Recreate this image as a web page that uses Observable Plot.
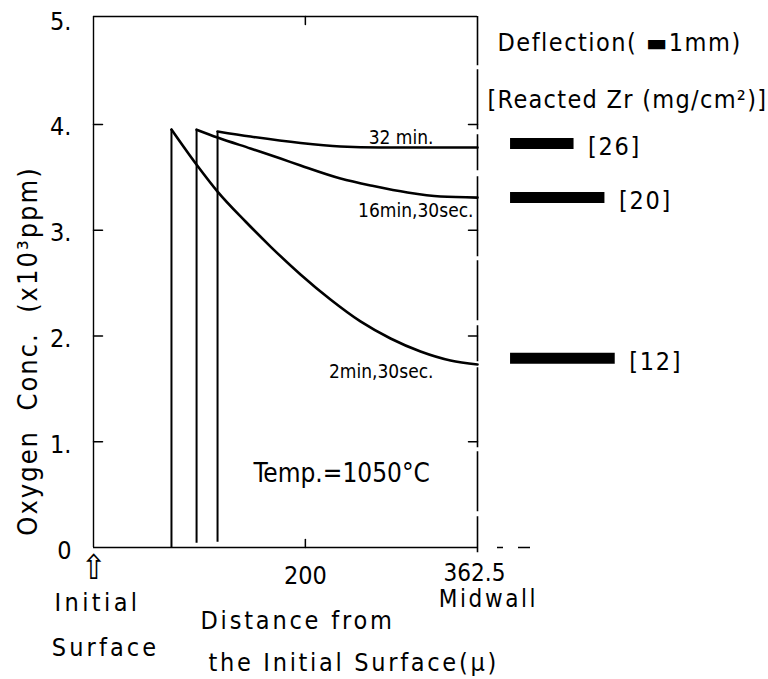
<!DOCTYPE html>
<html>
<head>
<meta charset="utf-8">
<script src="https://cdn.jsdelivr.net/npm/d3@7"></script>
<script src="https://cdn.jsdelivr.net/npm/@observablehq/plot@0.6"></script>
<style>
  html, body { margin: 0; padding: 0; background: #fff; }
  svg text { font-stretch: condensed; }
</style>
</head>
<body>
<div id="chart"></div>
<script>
// ---- data ----
const xDomain = [0, 362.5];           // distance from initial surface (µ), midwall at 362.5
const yDomain = [0, 5.02];            // oxygen conc. (x10^3 ppm)
const yTicks = [0, 1, 2, 3, 4, 5];
const yTickLabels = ["0", "1.", "2.", "3.", "4.", "5."];
const yInnerTicks = [1, 2, 3, 4];
const xTicks = [200];
const xTickLabels = ["200"];

// 2 min 30 sec
const x2min = [73.6, 97.2, 117.1, 143.5, 167.1, 195.4, 223.7, 252.0, 280.4, 308.7, 337.0, 362.5];
const y2min = [3.952, 3.621, 3.365, 3.082, 2.845, 2.581, 2.344, 2.137, 1.976, 1.853, 1.768, 1.730];
// 16 min 30 sec
const x16min = [97.3, 117.1, 148.2, 176.6, 195.5, 233.2, 264.3, 296.4, 327.6, 362.5];
const y16min = [3.95, 3.876, 3.772, 3.677, 3.611, 3.488, 3.417, 3.356, 3.318, 3.308];
// 32 min
const x32min = [117.1, 148.2, 195.5, 233.2, 271.0, 362.5];
const y32min = [3.933, 3.885, 3.824, 3.791, 3.781, 3.781];

// front positions (vertical lines from the axis to the curve start)
const frontX = [73.6, 97.3, 117.1];
const frontY1 = [0, 0.04, 0.05];
const frontY2 = [3.952, 3.95, 3.933];

const seriesNames = ["2min,30sec.", "16min,30sec.", "32 min."];

// deflection legend (mm) and reacted Zr (mg/cm2)
const deflectionMm = [3.7, 5.5, 6.1];
const deflectionLevel = [3.82, 3.31, 1.79];
const reactedZr = ["[26]", "[20]", "[12]"];
const mmToX = 16.2;       // 1 mm of deflection drawn as this many x-units
const barStartX = 393.7;

const series = (xs, ys, name) => xs.map((x, i) => ({x, y: ys[i], name}));
const s2 = series(x2min, y2min, seriesNames[0]);
const s16 = series(x16min, y16min, seriesNames[1]);
const s32 = series(x32min, y32min, seriesNames[2]);
const fronts = frontX.map((x, i) => ({x, y1: frontY1[i], y2: frontY2[i]}));
const bars = deflectionMm.map((d, i) => ({x1: barStartX, x2: barStartX + d * mmToX, y: deflectionLevel[i], label: reactedZr[i]}));

const FONT = "'DejaVu Sans Condensed', 'DejaVu Sans', sans-serif";
const line = {draw(ctx, l) { ctx.moveTo(0, 0); ctx.lineTo(0, -l); }};
const last = (s) => [s[s.length - 1]];

const T_YLABEL = "Oxygen  Conc.  (x10\u00B3ppm)";
const T_X1 = "Distance from";
const T_X2 = "the Initial Surface(\u03BC)";
const T_DEFL = "Deflection( \u25AC1mm)";
const T_ZR = "[Reacted Zr (mg/cm\u00B2)]";

const chart = Plot.plot({
  width: 768,
  height: 679,
  marginLeft: 93,
  marginRight: 291,
  marginTop: 16,
  marginBottom: 132,
  x: {domain: xDomain, axis: null},
  y: {domain: yDomain, axis: null},
  style: {background: "#fff", color: "#000", fontFamily: FONT, overflow: "visible"},
  marks: [
    // frame
    Plot.ruleX([xDomain[0]], {y1: yDomain[0], y2: yDomain[1], strokeWidth: 1.4}),
    Plot.ruleY([yDomain[1]], {x1: xDomain[0], x2: xDomain[1], strokeWidth: 1.6}),
    Plot.ruleY([yDomain[0]], {x1: xDomain[0], x2: xDomain[1], strokeWidth: 1.6}),
    Plot.ruleX([xDomain[1]], {y1: -0.05, y2: yDomain[1], strokeWidth: 1.6, strokeDasharray: "36,5,60,4,80,6"}),
    Plot.ruleY([yDomain[0]], {x1: xDomain[1], x2: 414.4, strokeWidth: 1.6, strokeDasharray: "0,20,6,15,12,100"}),
    // inward ticks
    Plot.vector(yInnerTicks, {x: xDomain[0], y: d => d, length: 9, rotate: 90, anchor: "start", shape: line, strokeWidth: 1.5}),
    Plot.vector(yInnerTicks, {x: xDomain[1], y: d => d, length: 9, rotate: -90, anchor: "start", shape: line, strokeWidth: 1.5}),
    Plot.vector(xTicks, {x: d => d, y: yDomain[0], length: 8, rotate: 0, anchor: "start", shape: line, strokeWidth: 1.5}),
    Plot.vector(xTicks, {x: d => d, y: yDomain[1], length: 8, rotate: 180, anchor: "start", shape: line, strokeWidth: 1.5}),
    // tick labels
    Plot.text(yTicks, {x: xDomain[0], y: d => d, text: (d, i) => yTickLabels[i], textAnchor: "end", dx: -22, dy: 3, fontSize: 25}),
    Plot.text(xTicks, {x: d => d, y: yDomain[0], text: (d, i) => xTickLabels[i], dy: 28, fontSize: 25}),
    Plot.text([xDomain[1]], {x: d => d, y: yDomain[0], text: d => String(d), dx: -3, dy: 26, fontSize: 24}),
    Plot.text(["Midwall"], {x: xDomain[1], y: yDomain[0], text: d => d, dx: 11, dy: 52, fontSize: 24}),
    // initial surface markers
    Plot.text(["\u21E7"], {x: xDomain[0], y: yDomain[0], text: d => d, dy: 21, fontSize: 34}),
    Plot.text(["Initial"], {x: xDomain[0], y: yDomain[0], text: d => d, dx: 4, dy: 55, fontSize: 25}),
    Plot.text(["Surface"], {x: xDomain[0], y: yDomain[0], text: d => d, dx: 12, dy: 100, fontSize: 25}),
    // axis titles
    Plot.text([T_X1], {x: xDomain[0], y: yDomain[0], text: d => d, textAnchor: "start", dx: 107, dy: 73, fontSize: 25}),
    Plot.text([T_X2], {x: xDomain[0], y: yDomain[0], text: d => d, textAnchor: "start", dx: 115, dy: 115, fontSize: 25}),
    Plot.text([T_YLABEL], {frameAnchor: "left", textAnchor: "middle", text: d => d, rotate: -90, dx: -65, dy: 69, fontSize: 27}),
    // fronts and curves
    Plot.ruleX(fronts, {x: "x", y1: "y1", y2: "y2", strokeWidth: 2}),
    Plot.line(s2, {x: "x", y: "y", curve: "monotone-x", strokeWidth: 2.6}),
    Plot.line(s16, {x: "x", y: "y", curve: "monotone-x", strokeWidth: 2.6}),
    Plot.line(s32, {x: "x", y: "y", curve: "monotone-x", strokeWidth: 2.6}),
    // curve labels
    Plot.text(last(s32), {x: "x", y: "y", text: "name", textAnchor: "end", dx: -44, dy: -10, fontSize: 19}),
    Plot.text(last(s16), {x: "x", y: "y", text: "name", textAnchor: "end", dx: -4, dy: 13, fontSize: 19}),
    Plot.text(last(s2), {x: "x", y: "y", text: "name", textAnchor: "end", dx: -44, dy: 7, fontSize: 19}),
    Plot.text(["Temp.=1050\u00B0C"], {x: 151, y: 0.70, text: d => d, textAnchor: "start", fontSize: 26}),
    // deflection legend
    Plot.text([T_DEFL], {x: xDomain[1], y: 4.765, text: d => d, textAnchor: "start", dx: 20, fontSize: 25}),
    Plot.text([T_ZR], {x: xDomain[1], y: 4.226, text: d => d, textAnchor: "start", dx: 10, fontSize: 25}),
    Plot.ruleY(bars, {y: "y", x1: "x1", x2: "x2", strokeWidth: 11}),
    Plot.text(bars, {x: "x2", y: "y", text: "label", textAnchor: "start", dx: 14, dy: 4, fontSize: 25})
  ]
});

// letter spacing to mimic the widely spaced drafting lettering
const spacing = new Map([
  [T_YLABEL, 2], [T_X1, 2.8], [T_X2, 2.7], ["Initial", 3.4], ["Surface", 3.1],
  ["Midwall", 2.6], [T_DEFL, 1.5], [T_ZR, 1.3], ["[26]", 1.7], ["[20]", 1.7], ["[12]", 1.7]
]);
d3.select(chart).selectAll("text").each(function () {
  const s = spacing.get(this.textContent);
  if (s != null) this.style.letterSpacing = s + "px";
});
document.getElementById("chart").appendChild(chart);
</script>
</body>
</html>
